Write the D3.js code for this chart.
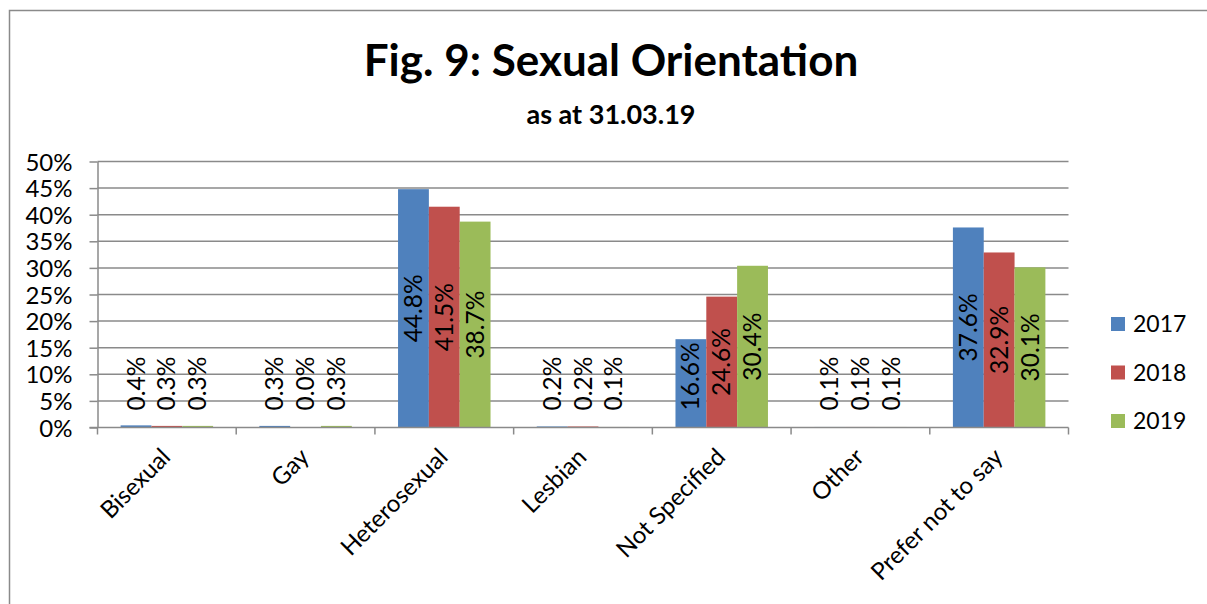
<!DOCTYPE html>
<html>

<head>
    <meta charset="utf-8" />
    <title>Fig. 9: Sexual Orientation</title>
    <style>
        body {
            margin: 0;
            background: #fff;
        }

        svg text {
            font-family: Lato, 'Open Sans', sans-serif;
            fill: #000;
        }

        .grid line,
        .axis line,
        .axis path {
            stroke: #8a8a8a;
            stroke-width: 1.5px;
        }
    </style>
</head>

<body>
    <div id="chart"></div>

    <script src="https://cdnjs.cloudflare.com/ajax/libs/d3/7.8.5/d3.min.js"></script>
    <script>
        !(function() {
            "use strict"

            var categories = ["Bisexual", "Gay", "Heterosexual", "Lesbian", "Not Specified", "Other", "Prefer not to say"]
            var years = ["2017", "2018", "2019"]
            var values2017 = [0.004, 0.003, 0.448, 0.002, 0.166, 0.001, 0.376]
            var values2018 = [0.003, 0.000, 0.415, 0.002, 0.246, 0.001, 0.329]
            var values2019 = [0.003, 0.003, 0.387, 0.001, 0.304, 0.001, 0.301]
            var yTicks = [0, 0.05, 0.1, 0.15, 0.2, 0.25, 0.3, 0.35, 0.4, 0.45, 0.5]
            var colors = ["#4f81bd", "#c0504d", "#9bbb59"]

            var series = [values2017, values2018, values2019]

            var width = 1207,
                height = 604
            var margin = {
                top: 161.5,
                left: 97.5,
                bottom: 604 - 427.5,
                right: 1207 - 1068.5
            }

            var svg = d3.select("#chart").append("svg")
                .attr("width", width)
                .attr("height", height)

            // chart frame
            svg.append("rect")
                .attr("x", 9.5)
                .attr("y", 10.5)
                .attr("width", 1210)
                .attr("height", 610)
                .attr("fill", "none")
                .attr("stroke", "#8a8a8a")
                .attr("stroke-width", 1.5)

            svg.append("text")
                .attr("x", 611)
                .attr("y", 76)
                .attr("text-anchor", "middle")
                .style("font-size", "44px")
                .style("font-weight", "bold")
                .text("Fig. 9: Sexual Orientation")

            svg.append("text")
                .attr("x", 611)
                .attr("y", 124)
                .attr("text-anchor", "middle")
                .style("font-size", "27px")
                .style("font-weight", "bold")
                .text("as at 31.03.19")

            var x0 = d3.scaleBand()
                .domain(categories)
                .range([margin.left, width - margin.right])

            var bw = x0.bandwidth()
            var x1 = d3.scaleBand()
                .domain(years)
                .range([bw / 6, bw * 5 / 6])

            var y = d3.scaleLinear()
                .domain([0, 0.5])
                .range([height - margin.bottom, margin.top])

            // gridlines
            svg.append("g")
                .attr("class", "grid")
                .selectAll("line")
                .data(yTicks.slice(1))
                .enter().append("line")
                .attr("x1", margin.left)
                .attr("x2", width - margin.right)
                .attr("y1", function(d) {
                    return y(d)
                })
                .attr("y2", function(d) {
                    return y(d)
                })

            // y axis
            var yAxis = svg.append("g")
                .attr("class", "axis")
                .attr("transform", "translate(" + margin.left + ",0)")
                .call(d3.axisLeft(y)
                    .tickValues(yTicks)
                    .tickFormat(d3.format(".0%"))
                    .tickSize(8)
                    .tickSizeOuter(0)
                    .tickPadding(17))
            yAxis.selectAll("text")
                .style("font-size", "24px")
                .attr("dy", "0.36em")

            // bars
            var groups = svg.append("g")
                .selectAll("g")
                .data(series)
                .enter().append("g")
                .attr("fill", function(d, i) {
                    return colors[i]
                })

            groups.selectAll("rect")
                .data(function(d, i) {
                    return d.map(function(v, j) {
                        return {
                            cat: categories[j],
                            year: years[i],
                            value: v
                        }
                    })
                })
                .enter().append("rect")
                .attr("x", function(d) {
                    return x0(d.cat) + x1(d.year)
                })
                .attr("width", x1.bandwidth())
                .attr("y", function(d) {
                    return y(d.value)
                })
                .attr("height", function(d) {
                    return y(0) - y(d.value)
                })

            // x axis with category dividers
            var xAxis = svg.append("g")
                .attr("class", "axis")
                .attr("transform", "translate(0," + y(0) + ")")
            xAxis.append("line")
                .attr("x1", margin.left - 8)
                .attr("x2", width - margin.right)
            xAxis.selectAll(".div")
                .data(d3.range(categories.length + 1))
                .enter().append("line")
                .attr("class", "div")
                .attr("x1", function(i) {
                    return margin.left + i * bw
                })
                .attr("x2", function(i) {
                    return margin.left + i * bw
                })
                .attr("y1", 0)
                .attr("y2", 7)

            xAxis.selectAll("text")
                .data(categories)
                .enter().append("text")
                .attr("text-anchor", "end")
                .style("font-size", "24px")
                .attr("transform", function(d) {
                    return "translate(" + (x0(d) + bw / 2 + 5) + ",31) rotate(-45)"
                })
                .text(function(d) {
                    return d
                })

            // data labels, rotated, centred in the bar but kept above the axis
            var labels = groups.selectAll("text")
                .data(function(d, i) {
                    return d.map(function(v, j) {
                        return {
                            cat: categories[j],
                            year: years[i],
                            value: v
                        }
                    })
                })
                .enter().append("text")
                .style("font-size", "24.5px")
                .attr("fill", "#000")
                .attr("dy", "0.35em")
                .text(function(d) {
                    return d3.format(".1%")(d.value)
                })

            labels.attr("transform", function(d) {
                var len = this.getComputedTextLength()
                var mid = (y(d.value) + y(0)) / 2
                var bottom = Math.min(mid + len / 2, y(0) - 17)
                var cx = x0(d.cat) + x1(d.year) + x1.bandwidth() / 2
                return "translate(" + cx + "," + bottom + ") rotate(-90)"
            })

            // legend
            var legend = svg.append("g")
                .selectAll("g")
                .data(years)
                .enter().append("g")
                .attr("transform", function(d, i) {
                    return "translate(1111," + (324 + i * 48.5) + ")"
                })
            legend.append("rect")
                .attr("x", 0)
                .attr("y", -7)
                .attr("width", 14)
                .attr("height", 14)
                .attr("fill", function(d, i) {
                    return colors[i]
                })
            legend.append("text")
                .attr("x", 22)
                .attr("dy", "0.36em")
                .style("font-size", "23px")
                .text(function(d) {
                    return d
                })
        }());
    </script>
</body>

</html>
